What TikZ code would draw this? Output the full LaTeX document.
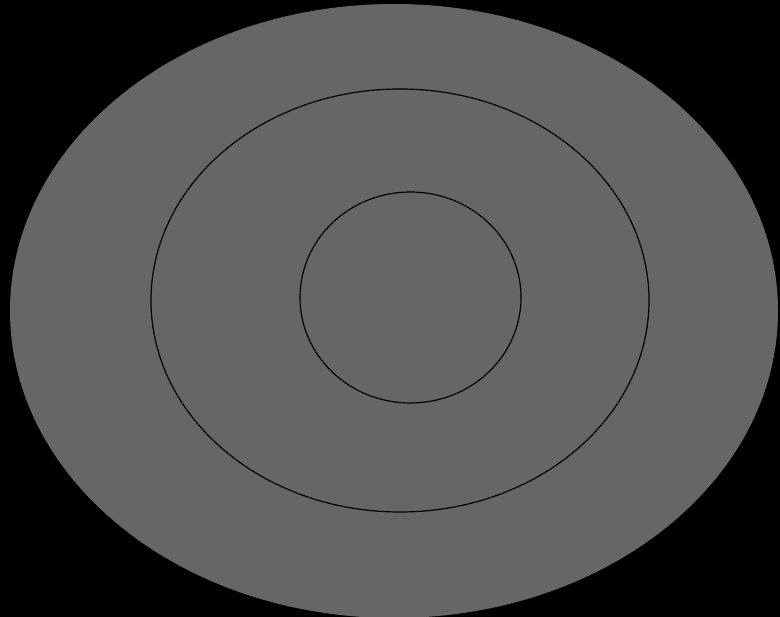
\documentclass[tikz,border=0pt]{standalone}
\definecolor{bggray}{HTML}{666666}
\tikzset{ring/.style={draw=black, line width=1.2pt}}
\begin{document}
\begin{tikzpicture}[x=1pt,y=-1pt]
\fill[black] (0,0) rectangle (780,617);
\useasboundingbox (0,0) rectangle (780,617);
\begin{scope}
\clip (0,0) rectangle (780,617);
\fill[bggray] (394,311) ellipse [x radius=384, y radius=307];
\end{scope}
\draw[ring] (400,300.5) ellipse [x radius=249, y radius=211.5];
\draw[ring] (410.5,297.5) ellipse [x radius=110.5, y radius=105.5];
\end{tikzpicture}
\end{document}
